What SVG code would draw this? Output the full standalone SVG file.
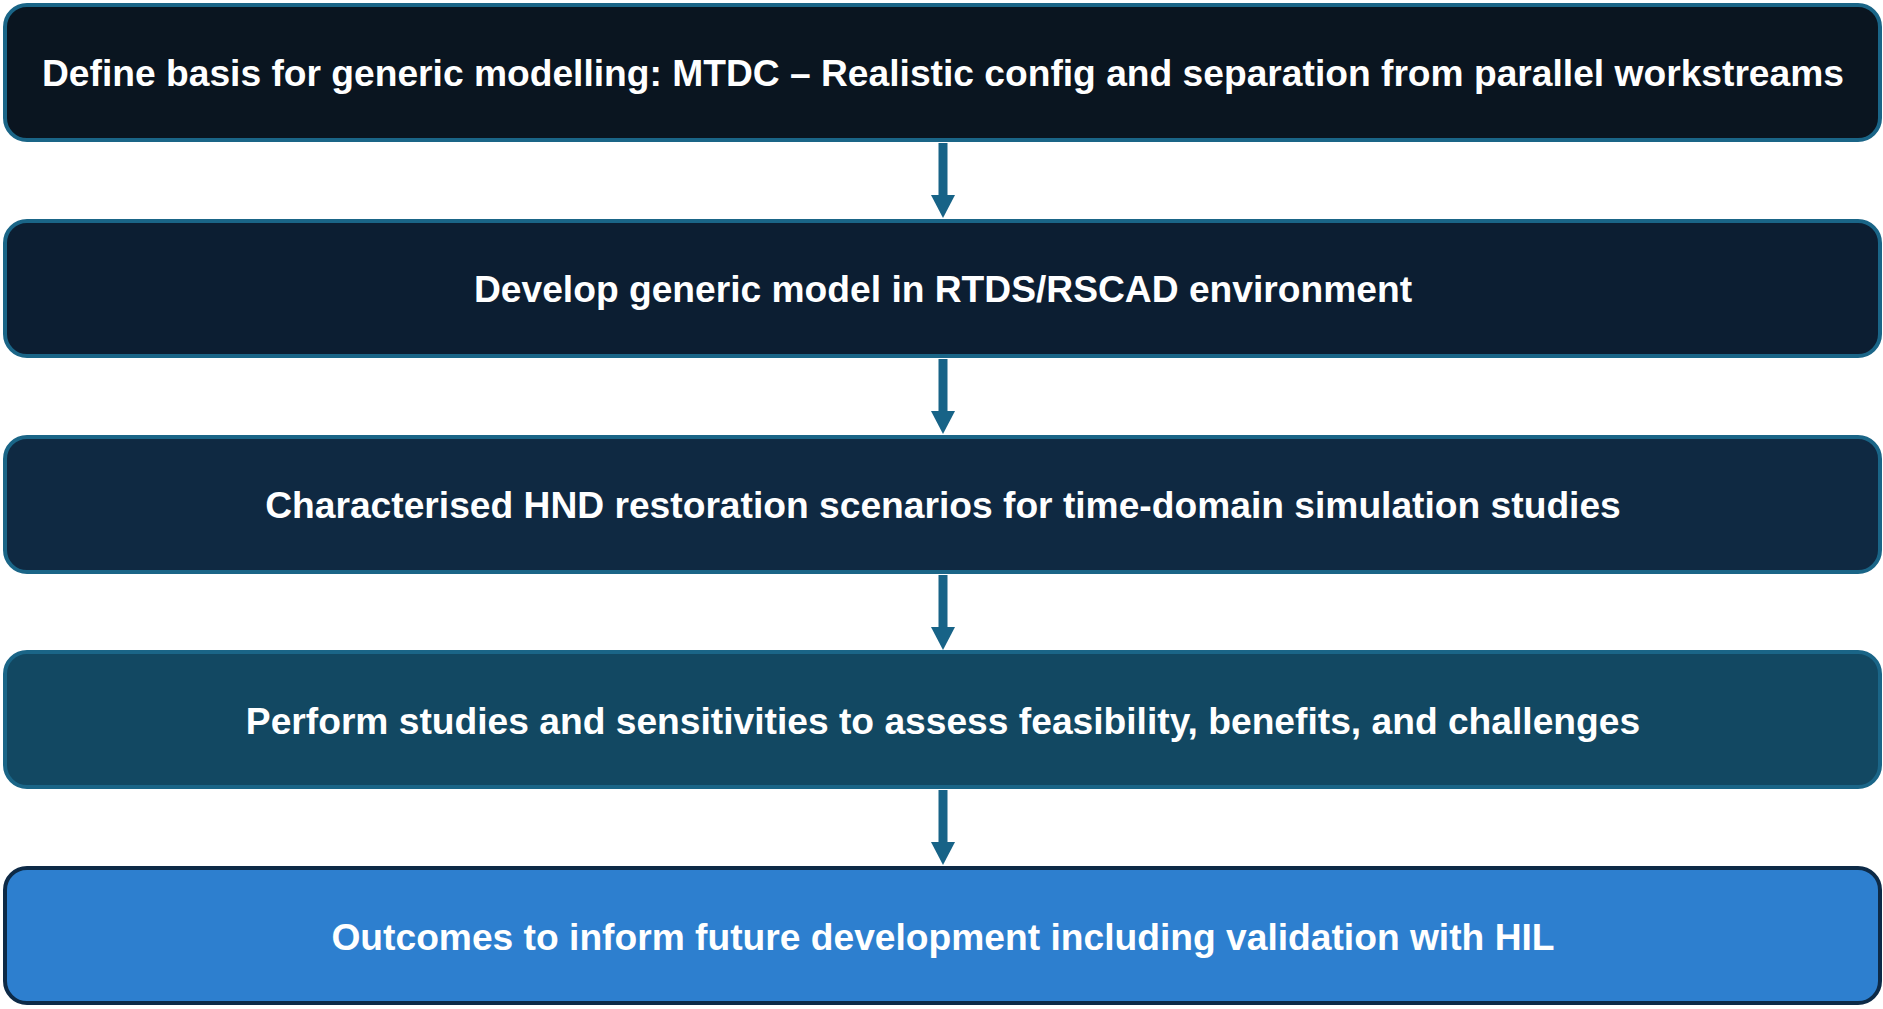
<svg xmlns="http://www.w3.org/2000/svg" width="1883" height="1009" viewBox="0 0 1883 1009">
<style>
.box{stroke:#1a6587;stroke-width:4}
.t{font-family:"Liberation Sans",Arial,sans-serif;font-weight:bold;font-size:37.2px;fill:#ffffff;text-anchor:middle}
.c{stroke:#176387;stroke-width:9;fill:none}
.h{fill:#176387}
</style>
<rect width="1883" height="1009" fill="#ffffff"/>
<g id="connectors">
<line class="c" x1="943" y1="143" x2="943" y2="196"/>
<path class="h" d="M931,195 L955,195 L943,218 Z"/>
<line class="c" x1="943" y1="359" x2="943" y2="412"/>
<path class="h" d="M931,411 L955,411 L943,434 Z"/>
<line class="c" x1="943" y1="575" x2="943" y2="628"/>
<path class="h" d="M931,627 L955,627 L943,650 Z"/>
<line class="c" x1="943" y1="790" x2="943" y2="843"/>
<path class="h" d="M931,842 L955,842 L943,865 Z"/>
</g>
<g id="n1">
<rect class="box" x="5" y="5" width="1875" height="135" rx="22" fill="#0a1520"/>
<text class="t" x="943" y="86">Define basis for generic modelling: MTDC – Realistic config and separation from parallel workstreams</text>
</g>
<g id="n2">
<rect class="box" x="5" y="221" width="1875" height="135" rx="22" fill="#0c1e32"/>
<text class="t" x="943" y="302">Develop generic model in RTDS/RSCAD environment</text>
</g>
<g id="n3">
<rect class="box" x="5" y="437" width="1875" height="135" rx="22" fill="#0f2942"/>
<text class="t" x="943" y="518">Characterised HND restoration scenarios for time-domain simulation studies</text>
</g>
<g id="n4">
<rect class="box" x="5" y="652" width="1875" height="135" rx="22" fill="#124862"/>
<text class="t" x="943" y="734">Perform studies and sensitivities to assess feasibility, benefits, and challenges</text>
</g>
<g id="n5">
<rect class="box" x="5" y="868" width="1875" height="135" rx="22" fill="#2d7fcf" style="stroke:#0d2a47"/>
<text class="t" x="943" y="950">Outcomes to inform future development including validation with HIL</text>
</g>
</svg>
